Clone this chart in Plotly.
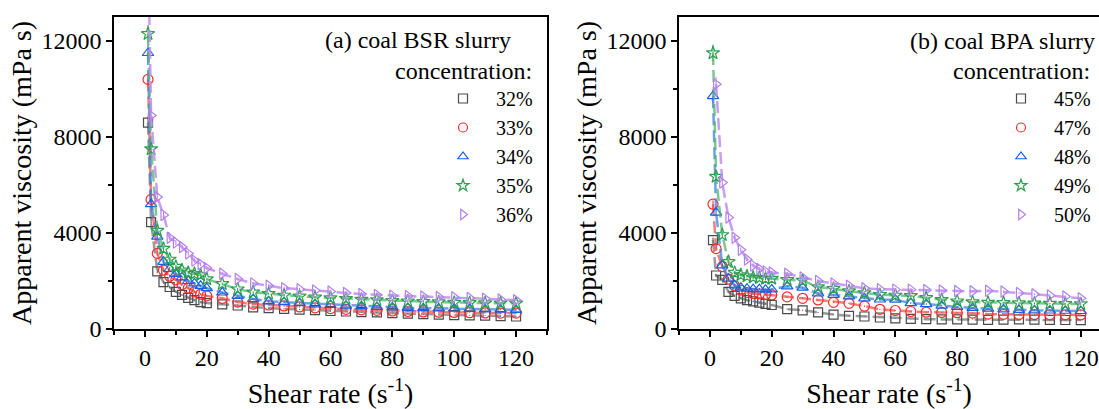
import plotly.graph_objects as go

shear_rate = [1, 2, 4, 6, 8, 10, 12, 14, 16, 18, 20, 25, 30, 35, 40, 45, 50, 55, 60,
              65, 70, 75, 80, 85, 90, 95, 100, 105, 110, 115, 120]

# (a) coal BSR slurry
bsr_labels = ["32%", "33%", "34%", "35%", "36%"]
bsr_32 = [8600, 4450, 2400, 1950, 1750, 1550, 1420, 1300, 1200, 1120, 1080, 1030, 980, 900, 870, 840,
          810, 790, 750, 730, 700, 690, 660, 640, 620, 600, 580, 570, 560, 540, 520]
bsr_33 = [10400, 5400, 3150, 2450, 2200, 2050, 1850, 1700, 1550, 1450, 1380, 1280, 1120, 1040, 1000, 960,
          920, 880, 850, 820, 800, 780, 750, 730, 710, 700, 690, 680, 670, 665, 660]
bsr_34 = [11500, 5200, 3850, 2800, 2500, 2300, 2150, 2000, 1900, 1800, 1700, 1520, 1380, 1250, 1150, 1120,
          1080, 1030, 1000, 970, 950, 920, 900, 880, 870, 860, 850, 840, 820, 810, 800]
bsr_35 = [12300, 7500, 4100, 3350, 2900, 2600, 2450, 2350, 2300, 2250, 2080, 1880, 1660, 1530, 1470, 1400,
          1360, 1320, 1290, 1260, 1230, 1210, 1180, 1160, 1140, 1120, 1100, 1090, 1080, 1075, 1070]
bsr_36 = [16000, 8900, 5500, 4750, 3800, 3600, 3420, 3150, 2850, 2700, 2540, 2300, 2080, 1900, 1800, 1700,
          1660, 1600, 1560, 1500, 1460, 1420, 1390, 1370, 1350, 1335, 1320, 1290, 1260, 1230, 1200]

# (b) coal BPA slurry
bpa_labels = ["45%", "47%", "48%", "49%", "50%"]
bpa_45 = [3700, 2230, 2050, 1550, 1380, 1280, 1200, 1150, 1100, 1050, 1000, 830, 780, 690, 600, 550,
          520, 480, 440, 420, 410, 400, 400, 390, 380, 390, 400, 390, 380, 375, 370]
bpa_47 = [5200, 3350, 2600, 2080, 1800, 1620, 1520, 1480, 1460, 1440, 1420, 1340, 1280, 1210, 1110, 1070,
          950, 820, 770, 730, 700, 690, 680, 660, 620, 610, 600, 600, 590, 590, 585]
bpa_48 = [9700, 4850, 2650, 2100, 1820, 1720, 1680, 1660, 1660, 1640, 1650, 1780, 1720, 1480, 1420, 1360,
          1280, 1230, 1220, 1080, 1040, 970, 920, 880, 850, 820, 800, 780, 770, 760, 750]
bpa_49 = [11500, 6350, 3920, 2800, 2350, 2250, 2200, 2150, 2130, 2100, 2100, 2050, 2020, 1750, 1680, 1580,
          1500, 1430, 1400, 1380, 1300, 1220, 1160, 1120, 1100, 1090, 1080, 1070, 1060, 1050, 1040]
bpa_50 = [None, 10200, 6100, 4650, 3800, 3300, 2900, 2650, 2500, 2400, 2350, 2300, 2150, 2000, 1900, 1800,
          1700, 1660, 1640, 1640, 1620, 1600, 1580, 1570, 1590, 1560, 1500, 1450, 1400, 1350, 1280]

y_ticks = [0, 4000, 8000, 12000]
x_ticks = [0, 20, 40, 60, 80, 100, 120]

symbols = ["square-open", "circle-open", "triangle-up-open", "star-open", "triangle-right-open"]
sizes = [9, 10, 10, 10, 10]
marker_colors = ["#4a4a4a", "#ff2a2a", "#1a5fe0", "#2e9e50", "#b27ff0"]
line_colors = ["rgba(120,120,120,0.75)", "rgba(240,80,80,0.75)", "rgba(60,130,230,0.75)",
               "rgba(80,180,110,0.75)", "rgba(190,140,240,0.85)"]

FONT = "Liberation Serif"
fig = go.Figure()

panels = [
    ("x", "y", "legend", [bsr_32, bsr_33, bsr_34, bsr_35, bsr_36], bsr_labels),
    ("x2", "y2", "legend2", [bpa_45, bpa_47, bpa_48, bpa_49, bpa_50], bpa_labels),
]
for xa, ya, leg, series, labels in panels:
    for i, (vals, lab) in enumerate(zip(series, labels)):
        fig.add_trace(go.Scatter(
            x=shear_rate, y=vals, xaxis=xa, yaxis=ya, mode="lines+markers",
            line=dict(color=line_colors[i], width=2.5, dash="12px,5px"),
            marker=dict(symbol=symbols[i], size=sizes[i], color=marker_colors[i],
                        line=dict(width=1.2, color=marker_colors[i])),
            error_y=dict(type="percent", value=3, thickness=1, width=0, color=marker_colors[i]),
            showlegend=False, hoverinfo="skip"))
    for i, lab in enumerate(labels):
        fig.add_trace(go.Scatter(
            x=[None], y=[None], xaxis=xa, yaxis=ya, mode="markers", name=lab, legend=leg,
            marker=dict(symbol=symbols[i], size=9, color=marker_colors[i],
                        line=dict(width=1.2, color=marker_colors[i]))))

H = 409.0
W = 1099.0
ydom = [(H - 329) / H, (H - 17) / H]

axis_common = dict(showgrid=False, zeroline=False, showline=True, linecolor="black", linewidth=1.6,
                   ticks="outside", ticklen=6, tickwidth=1.5, tickcolor="black",
                   tickfont=dict(family=FONT, size=24, color="black"), automargin=False)

xcommon = dict(axis_common, tickvals=x_ticks, mirror=True,
               minor=dict(ticks="outside", ticklen=4, tickwidth=1.5, dtick=10, tickcolor="black"),
               title=dict(text="Shear rate (s<sup>-1</sup>)", font=dict(family=FONT, size=28, color="black"),
                          standoff=14))
ycommon = dict(axis_common, tickvals=y_ticks, tickformat="d", range=[0, 13000],
               minor=dict(ticks="outside", ticklen=4, tickwidth=1.5, dtick=2000, tickcolor="black"),
               title=dict(text="Apparent viscosity (mPa s)", font=dict(family=FONT, size=28, color="black"),
                          standoff=2))

legend_common = dict(xanchor="left", y=(H - 79) / H, yanchor="top", bgcolor="rgba(0,0,0,0)",
                     font=dict(family=FONT, size=20, color="black"), itemwidth=56, tracegroupgap=0)

fig.update_layout(
    width=1099, height=409,
    margin=dict(l=0, r=0, t=0, b=0),
    paper_bgcolor="white", plot_bgcolor="white",
    font=dict(family=FONT, color="black"),
    xaxis=dict(xcommon, domain=[114 / W, 547 / W], range=[-10, 130], anchor="y"),
    yaxis=dict(ycommon, domain=ydom, anchor="x", mirror=True),
    xaxis2=dict(xcommon, domain=[679 / W, 1.0], range=[-10, 125.9], anchor="y2"),
    yaxis2=dict(ycommon, domain=ydom, anchor="x2", mirror=False),
    legend=dict(legend_common, x=430 / W),
    legend2=dict(legend_common, x=988 / W),
    annotations=[
        dict(text="(a) coal BSR slurry", x=513 / W, y=(H - 40) / H, xref="paper", yref="paper",
             xanchor="right", yanchor="middle", showarrow=False, font=dict(family=FONT, size=24)),
        dict(text="concentration:", x=534 / W, y=(H - 71) / H, xref="paper", yref="paper",
             xanchor="right", yanchor="middle", showarrow=False, font=dict(family=FONT, size=24)),
        dict(text="(b) coal BPA slurry", x=1097 / W, y=(H - 41) / H, xref="paper", yref="paper",
             xanchor="right", yanchor="middle", showarrow=False, font=dict(family=FONT, size=24)),
        dict(text="concentration:", x=1092 / W, y=(H - 71) / H, xref="paper", yref="paper",
             xanchor="right", yanchor="middle", showarrow=False, font=dict(family=FONT, size=24)),
    ],
)

fig.write_html("out.html", config={"displayModeBar": False},
               post_script="document.body.style.margin='0';document.body.style.padding='0';"
                           "document.documentElement.style.overflow='hidden';")
